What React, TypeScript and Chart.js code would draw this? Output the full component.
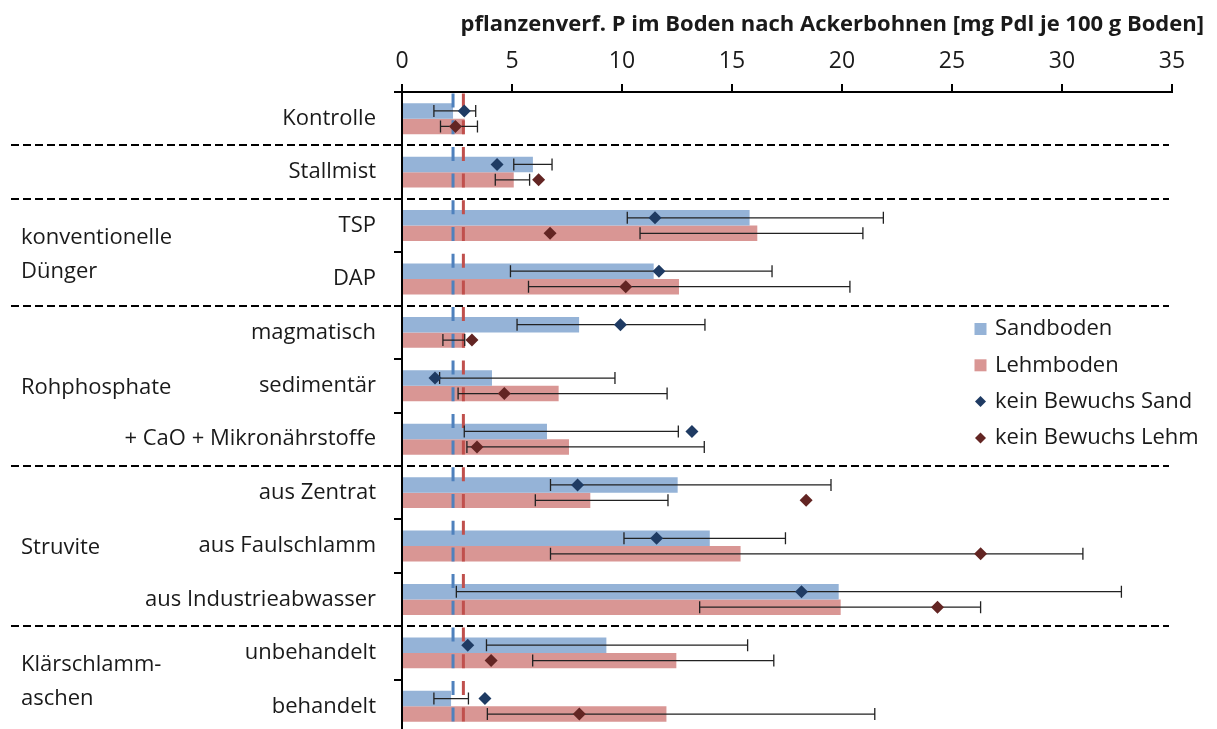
import React, { useEffect, useRef } from 'react';
import { Chart, registerables } from 'chart.js';

Chart.register(...registerables);

const categories = [
  'Kontrolle',
  'Stallmist',
  'TSP',
  'DAP',
  'magmatisch',
  'sedimentär',
  '+ CaO + Mikronährstoffe',
  'aus Zentrat',
  'aus Faulschlamm',
  'aus Industrieabwasser',
  'unbehandelt',
  'behandelt',
];

const sandboden = [2.32, 5.95, 15.8, 11.44, 8.05, 4.09, 6.59, 12.53, 13.99, 19.85, 9.29, 2.23];
const sandErrLow = [1.45, 5.08, 10.24, 4.93, 5.23, 1.71, 2.83, 6.75, 10.09, 2.47, 3.84, 1.45];
const sandErrHigh = [3.35, 6.82, 21.88, 16.82, 13.77, 9.68, 12.56, 19.5, 17.43, 32.7, 15.71, 3.02];

const lehmboden = [2.85, 5.08, 16.15, 12.59, 2.87, 7.12, 7.59, 8.56, 15.39, 19.94, 12.47, 12.02];
const lehmErrLow = [1.75, 4.24, 10.82, 5.75, 1.86, 2.55, 2.95, 6.06, 6.75, 13.53, 5.94, 3.88];
const lehmErrHigh = [3.43, 5.8, 20.95, 20.36, 2.85, 12.05, 13.74, 12.09, 30.95, 26.3, 16.9, 21.49];

const keinBewuchsSand = [2.83, 4.32, 11.5, 11.68, 9.93, 1.5, 13.18, 7.98, 11.57, 18.16, 2.99, 3.77];
const keinBewuchsLehm = [2.43, 6.21, 6.73, 10.17, 3.18, 4.65, 3.41, 18.37, 26.3, 24.34, 4.05, 8.06];

const refSand = 2.32;
const refLehm = 2.79;

const xTicks = [0, 5, 10, 15, 20, 25, 30, 35];

const separatorsAfter = [0, 1, 3, 6, 9];
const groupLabels = [
  { lines: ['konventionelle', 'Dünger'], from: 2, to: 3 },
  { lines: ['Rohphosphate'], from: 4, to: 6 },
  { lines: ['Struvite'], from: 7, to: 9 },
  { lines: ['Klärschlamm-', 'aschen'], from: 10, to: 11 },
];

const legendItems = ['Sandboden', 'Lehmboden', 'kein Bewuchs Sand', 'kein Bewuchs Lehm'];

const axisTitle = 'pflanzenverf. P im Boden nach Ackerbohnen [mg Pdl je 100 g Boden]';

const FONT = "'Open Sans', 'DejaVu Sans', sans-serif";
const TEXT = '#1a1a1a';
const BLUE_BAR = '#95B3D7';
const RED_BAR = '#D99694';
const BLUE_LINE = '#4F81BD';
const RED_LINE = '#C0504D';
const BLUE_DIAMOND = '#1F3B63';
const RED_DIAMOND = '#632523';

const overlayPlugin = {
  id: 'overlay',
  afterDatasetsUpdate(chart: any) {
    const barS = chart.getDatasetMeta(0);
    const barL = chart.getDatasetMeta(1);
    const dS = chart.getDatasetMeta(2);
    const dL = chart.getDatasetMeta(3);
    dS.data.forEach((p: any, i: number) => { if (barS.data[i]) p.y = barS.data[i].y; });
    dL.data.forEach((p: any, i: number) => { if (barL.data[i]) p.y = barL.data[i].y; });
  },
  afterDatasetDraw(chart: any, args: any) {
    if (args.index !== 0) return;
    const { ctx, chartArea } = chart;
    const xs = chart.scales.x;
    ctx.save();
    const refs = [
      { v: refSand, c: BLUE_LINE },
      { v: refLehm, c: RED_LINE },
    ];
    refs.forEach((r) => {
      const px = xs.getPixelForValue(r.v);
      ctx.beginPath();
      ctx.strokeStyle = r.c;
      ctx.lineWidth = 3;
      ctx.setLineDash([14, 12.7]);
      ctx.moveTo(px, chartArea.top + 1.5);
      ctx.lineTo(px, chartArea.bottom);
      ctx.stroke();
    });
    ctx.setLineDash([]);
    const drawErr = (metaIdx: number, lo: number[], hi: number[]) => {
      const meta = chart.getDatasetMeta(metaIdx);
      meta.data.forEach((bar: any, i: number) => {
        const y = bar.y;
        const x1 = xs.getPixelForValue(lo[i]);
        const x2 = xs.getPixelForValue(hi[i]);
        ctx.beginPath();
        ctx.strokeStyle = '#222';
        ctx.lineWidth = 1.3;
        ctx.moveTo(x1, y);
        ctx.lineTo(x2, y);
        ctx.moveTo(x1, y - 6);
        ctx.lineTo(x1, y + 6);
        ctx.moveTo(x2, y - 6);
        ctx.lineTo(x2, y + 6);
        ctx.stroke();
      });
    };
    drawErr(0, sandErrLow, sandErrHigh);
    drawErr(1, lehmErrLow, lehmErrHigh);
    ctx.restore();
  },
  afterDraw(chart: any) {
    const { ctx } = chart;
    const ys = chart.scales.y;
    ctx.save();
    ctx.strokeStyle = '#000';
    ctx.lineWidth = 2;
    ctx.setLineDash([8, 4]);
    separatorsAfter.forEach((i) => {
      const y = Math.round((ys.getPixelForValue(i) + ys.getPixelForValue(i + 1)) / 2);
      ctx.beginPath();
      ctx.moveTo(11, y);
      ctx.lineTo(1169, y);
      ctx.stroke();
    });
    ctx.setLineDash([]);
    ctx.fillStyle = TEXT;
    ctx.font = `22px ${FONT}`;
    ctx.textAlign = 'left';
    ctx.textBaseline = 'middle';
    groupLabels.forEach((g) => {
      const yc = (ys.getPixelForValue(g.from) + ys.getPixelForValue(g.to)) / 2 + 2;
      const lh = 34;
      const y0 = yc - ((g.lines.length - 1) * lh) / 2;
      g.lines.forEach((t, k) => ctx.fillText(t, 21, y0 + k * lh));
    });
    ctx.font = `bold 22px ${FONT}`;
    ctx.textAlign = 'right';
    ctx.fillText(axisTitle, 1204, 25);
    const colors = [BLUE_BAR, RED_BAR, BLUE_DIAMOND, RED_DIAMOND];
    ctx.font = `22px ${FONT}`;
    ctx.textAlign = 'left';
    legendItems.forEach((t, k) => {
      const y = 329 + k * 36.3;
      const cx = 980.5;
      ctx.fillStyle = colors[k];
      if (k < 2) {
        ctx.fillRect(cx - 6, y - 6, 12, 12);
      } else {
        ctx.beginPath();
        ctx.moveTo(cx - 5.5, y);
        ctx.lineTo(cx, y - 5.5);
        ctx.lineTo(cx + 5.5, y);
        ctx.lineTo(cx, y + 5.5);
        ctx.closePath();
        ctx.fill();
      }
      ctx.fillStyle = TEXT;
      ctx.fillText(t, 995, y);
    });
    ctx.restore();
  },
};

export default function App() {
  const ref = useRef<HTMLCanvasElement | null>(null);
  useEffect(() => {
    if (!ref.current) return;
    const chart = new Chart(ref.current, {
      type: 'bar',
      data: {
        labels: categories,
        datasets: [
          {
            type: 'bar',
            label: 'Sandboden',
            data: sandboden,
            backgroundColor: BLUE_BAR,
            borderWidth: 0,
            order: 1,
            categoryPercentage: 0.58,
            barPercentage: 1,
          },
          {
            type: 'bar',
            label: 'Lehmboden',
            data: lehmboden,
            backgroundColor: RED_BAR,
            borderWidth: 0,
            order: 1,
            categoryPercentage: 0.58,
            barPercentage: 1,
          },
          {
            type: 'line',
            label: 'kein Bewuchs Sand',
            data: keinBewuchsSand,
            showLine: false,
            pointStyle: 'rectRot',
            pointRadius: 6.5,
            pointBackgroundColor: BLUE_DIAMOND,
            pointBorderColor: BLUE_DIAMOND,
            pointBorderWidth: 0,
            order: 0,
          },
          {
            type: 'line',
            label: 'kein Bewuchs Lehm',
            data: keinBewuchsLehm,
            showLine: false,
            pointStyle: 'rectRot',
            pointRadius: 6.5,
            pointBackgroundColor: RED_DIAMOND,
            pointBorderColor: RED_DIAMOND,
            pointBorderWidth: 0,
            order: 0,
          },
        ] as any,
      },
      options: {
        indexAxis: 'y',
        responsive: false,
        animation: false,
        events: [],
        layout: { padding: { left: 0, right: 45, top: 0, bottom: 7 } },
        plugins: {
          legend: { display: false },
          tooltip: { enabled: false },
        },
        scales: {
          x: {
            position: 'top',
            min: 0,
            max: 35,
            afterBuildTicks: (scale: any) => {
              scale.ticks = xTicks.map((v) => ({ value: v }));
            },
            afterFit: (scale: any) => {
              scale.height = 92;
              scale.paddingLeft = 0;
              scale.paddingRight = 0;
            },
            grid: {
              drawOnChartArea: false,
              drawTicks: true,
              tickLength: 8,
              color: '#000',
              lineWidth: 2,
            },
            border: { display: true, color: '#000', width: 2 },
            ticks: {
              color: TEXT,
              font: { family: FONT, size: 23 },
              padding: 9,
              maxRotation: 0,
            },
          },
          y: {
            type: 'category',
            afterFit: (scale: any) => {
              scale.width = 402;
              scale.paddingTop = 0;
              scale.paddingBottom = 0;
            },
            grid: {
              drawOnChartArea: false,
              drawTicks: true,
              tickLength: 8,
              color: '#000',
              lineWidth: 2,
              offset: true,
            },
            border: { display: true, color: '#000', width: 2 },
            ticks: {
              color: TEXT,
              font: { family: FONT, size: 22 },
              padding: 18,
              autoSkip: false,
            },
          },
        },
      } as any,
      plugins: [overlayPlugin],
    });
    return () => chart.destroy();
  }, []);

  return (
    <div
      style={{
        position: 'fixed',
        left: 0,
        top: 0,
        width: 1217,
        height: 729,
        overflow: 'hidden',
        background: '#fff',
      }}
    >
      <canvas ref={ref} width={1217} height={740} style={{ width: 1217, height: 740, display: 'block' }} />
    </div>
  );
}
